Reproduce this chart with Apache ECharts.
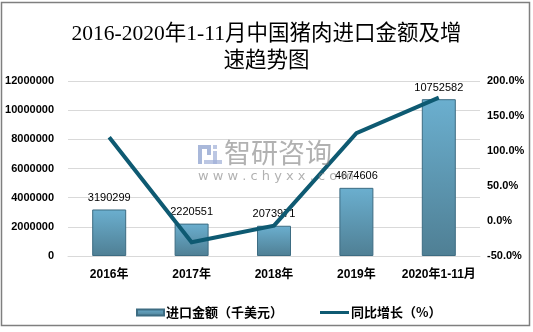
<!DOCTYPE html>
<html>
<head>
<meta charset="utf-8">
<script src="https://cdn.jsdelivr.net/npm/echarts@6/dist/echarts.min.js"></script>
<style>
html,body{margin:0;padding:0;background:#fff;}
#chart{width:533px;height:332px;}
</style>
</head>
<body>
<div id="chart"></div>
<script>
var categories = ['2016年', '2017年', '2018年', '2019年', '2020年1-11月'];
var importValues = [3190299, 2220551, 2073971, 4674606, 10752582];
var growthRates = [119.6, -30.4, -6.6, 125.4, 176.2];
var leftTicks = { min: 0, max: 12000000, interval: 2000000 };
var rightTicks = { min: -50, max: 200, interval: 50 };
var titleText = '2016-2020年1-11月中国猪肉进口金额及增\n速趋势图';
var barName = '进口金额（千美元）';
var lineName = '同比增长（%）';

var legendText = {
  fontFamily: "'Noto Sans CJK SC',sans-serif",
  fontSize: 13,
  fontWeight: 'bold',
  color: '#000',
  padding: [0, 0, 0, -3]
};

var chart = echarts.init(document.getElementById('chart'), null, { renderer: 'canvas' });
var option = {
  backgroundColor: '#ffffff',
  animation: false,
  title: {
    text: titleText,
    left: 'center',
    top: 16,
    textStyle: {
      fontFamily: "'Liberation Serif','Noto Sans CJK SC',serif",
      fontSize: 21.5,
      fontWeight: 'normal',
      color: '#000',
      lineHeight: 27
    }
  },
  legend: [
    {
      left: 131,
      top: 301,
      itemWidth: 27,
      itemHeight: 6,
      textStyle: legendText,
      data: [{ name: barName, icon: 'rect' }]
    },
    {
      left: 315,
      top: 301,
      itemWidth: 29,
      itemHeight: 3,
      textStyle: legendText,
      data: [{ name: lineName, icon: 'rect' }]
    }
  ],
  grid: { left: 68, right: 53, top: 81, bottom: 76 },
  xAxis: {
    type: 'category',
    data: categories,
    axisTick: { show: false },
    axisLine: { show: true, lineStyle: { color: '#d9d9d9', width: 1 } },
    axisLabel: {
      interval: 0,
      margin: 13,
      fontFamily: "'Liberation Sans','Noto Sans CJK SC',sans-serif",
      fontSize: 12,
      fontWeight: 'bold',
      color: '#000'
    }
  },
  yAxis: [
    {
      type: 'value',
      min: leftTicks.min, max: leftTicks.max, interval: leftTicks.interval,
      axisLine: { show: false },
      axisTick: { show: false },
      splitLine: { lineStyle: { color: '#d9d9d9', width: 1 } },
      axisLabel: {
        margin: 14,
        fontFamily: "'Liberation Sans',sans-serif",
        fontSize: 11,
        fontWeight: 'bold',
        color: '#000',
        formatter: function (v) { return String(v); }
      }
    },
    {
      type: 'value',
      min: rightTicks.min, max: rightTicks.max, interval: rightTicks.interval,
      axisLine: { show: false },
      axisTick: { show: false },
      splitLine: { show: false },
      axisLabel: {
        margin: 7,
        fontFamily: "'Liberation Sans',sans-serif",
        fontSize: 11,
        fontWeight: 'bold',
        color: '#000',
        formatter: function (v) { return v.toFixed(1) + '%'; }
      }
    }
  ],
  series: [
    {
      name: barName,
      type: 'bar',
      yAxisIndex: 0,
      data: importValues,
      barWidth: 34,
      itemStyle: {
        color: new echarts.graphic.LinearGradient(0, 0, 0, 1, [
          { offset: 0, color: '#6bafcf' },
          { offset: 1, color: '#4f7f94' }
        ]),
        borderColor: '#3d6c82',
        borderWidth: 1
      },
      label: {
        show: true,
        position: 'top',
        distance: 6,
        fontFamily: "'Liberation Sans',sans-serif",
        fontSize: 11,
        color: '#000'
      },
      z: 2
    },
    {
      name: lineName,
      type: 'line',
      yAxisIndex: 1,
      data: growthRates,
      symbol: 'none',
      lineStyle: { color: '#0e5a72', width: 4, cap: 'butt', join: 'miter' },
      itemStyle: { color: '#0e5a72' },
      z: 5
    }
  ],
  graphic: [
    {
      type: 'rect',
      shape: { x: 1.5, y: 2.5, width: 528, height: 323 },
      style: { fill: 'none', stroke: '#7f7f7f', lineWidth: 1.5 },
      silent: true, z: 100
    },
    {
      type: 'group', silent: true, z: 50,
      children: [
        { type: 'rect', shape: { x: 198, y: 145, width: 4, height: 19 }, style: { fill: 'rgba(140,160,205,0.75)' } },
        { type: 'rect', shape: { x: 202, y: 145, width: 9, height: 4 }, style: { fill: 'rgba(140,160,205,0.75)' } },
        { type: 'rect', shape: { x: 207, y: 149, width: 4, height: 6 }, style: { fill: 'rgba(140,160,205,0.75)' } },
        { type: 'rect', shape: { x: 213, y: 145, width: 4, height: 4 }, style: { fill: 'rgba(160,175,215,0.7)' } },
        { type: 'rect', shape: { x: 213, y: 151, width: 4, height: 13 }, style: { fill: 'rgba(160,175,215,0.7)' } },
        { type: 'rect', shape: { x: 204, y: 160, width: 18, height: 4 }, style: { fill: 'rgba(160,175,215,0.7)' } }
      ]
    },
    {
      type: 'text',
      left: 224, top: 139,
      style: {
        text: '智研咨询',
        fontFamily: "'Noto Sans CJK SC',sans-serif",
        fontSize: 27,
        fill: 'rgba(125,125,125,0.6)'
      },
      silent: true, z: 50
    },
    {
      type: 'text',
      left: 198, top: 170,
      style: {
        text: 'w w w . c h y x x . c o m',
        fontFamily: "'DejaVu Sans',sans-serif",
        fontSize: 13,
        fill: 'rgba(125,125,125,0.6)'
      },
      silent: true, z: 50
    }
  ]
};
chart.setOption(option);
</script>
</body>
</html>
